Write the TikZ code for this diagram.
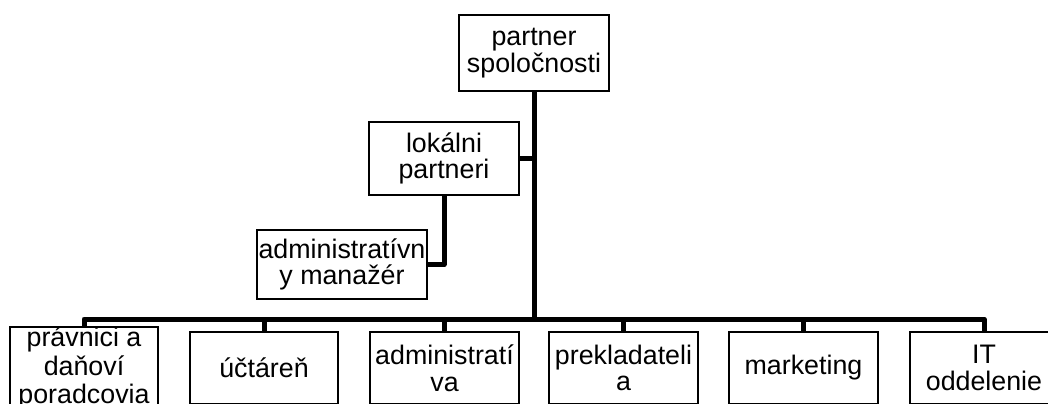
\documentclass[tikz,border=0pt]{standalone}
\usepackage{fontspec}
\setmainfont{Liberation Sans}
\begin{document}
\begin{tikzpicture}[x=1bp,y=-1bp,
  box/.style={draw=black, line width=2.5bp, fill=white, rectangle, inner sep=0pt,
    align=center, font=\fontsize{26.8bp}{26.6bp}\selectfont},
  conn/.style={draw=black, line width=5bp, line join=round}]
\useasboundingbox (0,0) rectangle (1048,403);
\clip (0,0) rectangle (1048,403);
\fill[white] (0,0) rectangle (1048,403);
\coordinate (busy) at (0,319);
\node[box, minimum width=150bp, minimum height=76bp] (top) at (534,53) {partner\\spoločnosti};
\node[box, minimum width=150bp, minimum height=73bp] (lok) at (444,158.5) {lokálni\\partneri};
\node[box, minimum width=170bp, minimum height=69bp] (adm) at (342,264.5) {administratívn\\y manažér};
\node[box, minimum width=148bp, minimum height=72bp, font=\fontsize{26.8bp}{28.5bp}\selectfont] (b1) at (84,368) {právnici a\\daňoví\\poradcovia};
\node[box, minimum width=148bp, minimum height=72bp] (b2) at (264,368) {účtáreň};
\node[box, minimum width=149bp, minimum height=72bp] (b3) at (444.5,368) {administratí\\va};
\node[box, minimum width=149bp, minimum height=72bp] (b4) at (623.5,368) {prekladateli\\a};
\node[box, minimum width=149bp, minimum height=72bp] (b5) at (803.5,368) {marketing};
\node[box, minimum width=148bp, minimum height=72bp] (b6) at (984,368) {IT\\oddelenie};
\draw[conn] (top.south) -- (top.south |- busy);
\draw[conn] (lok.east) -- (lok.east -| top.south);
\draw[conn] (lok.south) |- (adm.east);
\draw[conn] (b1.north) |- (b6.north |- busy) -- (b6.north);
\draw[conn] (b2.north) -- (b2.north |- busy);
\draw[conn] (b3.north) -- (b3.north |- busy);
\draw[conn] (b4.north) -- (b4.north |- busy);
\draw[conn] (b5.north) -- (b5.north |- busy);
\end{tikzpicture}
\end{document}
